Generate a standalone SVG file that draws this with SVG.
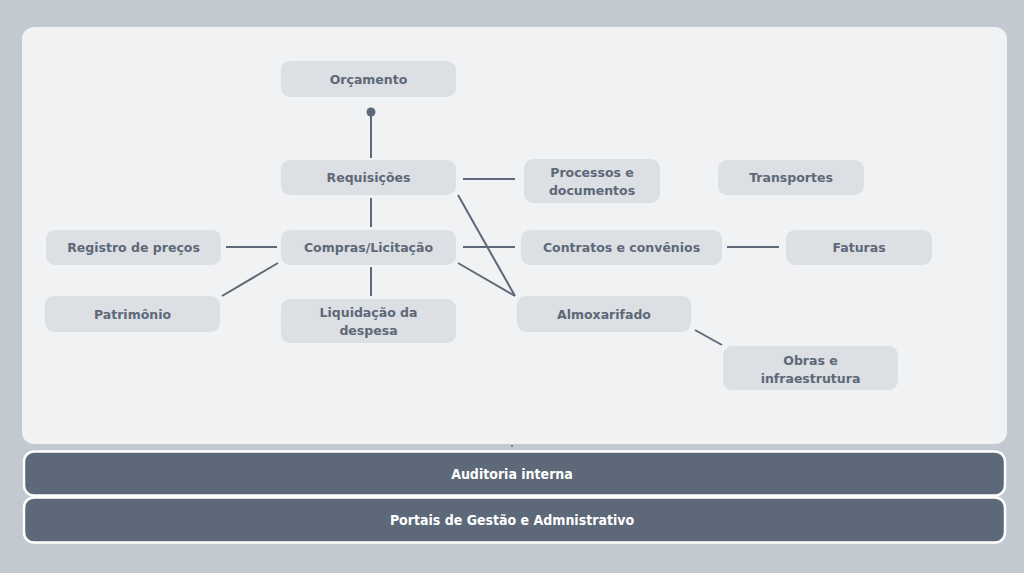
<svg xmlns="http://www.w3.org/2000/svg" width="1024" height="573" viewBox="0 0 1024 573">
<defs>
<style>
.node rect{fill:#dcdfe3}
.node text{font-family:"DejaVu Sans",Verdana,sans-serif;font-weight:bold;font-size:12.5px;fill:#5d6878;text-anchor:middle}
.bar rect{fill:#5d6878;stroke:#ffffff;stroke-width:2.5}
.bar text{font-family:"DejaVu Sans Condensed","DejaVu Sans",sans-serif;font-stretch:condensed;font-weight:bold;font-size:14px;fill:#ffffff;text-anchor:middle}
.conn line{stroke:#5d6878;stroke-width:2;stroke-linecap:butt}
</style>
</defs>
<rect x="0" y="0" width="1024" height="573" fill="#c3c9d0"/>
<rect id="panel" x="22" y="27" width="985" height="417" rx="12" fill="#f1f2f4"/>
<g id="connectors" class="conn">
<line x1="371" y1="112" x2="371" y2="158"/>
<circle cx="371" cy="112" r="4.5" fill="#5d6878"/>
<line x1="463" y1="179" x2="515" y2="179"/>
<line x1="371" y1="198" x2="371" y2="227"/>
<line x1="226" y1="247" x2="277" y2="247"/>
<line x1="463" y1="247" x2="515" y2="247"/>
<line x1="278" y1="263" x2="222" y2="296"/>
<line x1="371" y1="267" x2="371" y2="296"/>
<line x1="458" y1="195" x2="515" y2="296"/>
<line x1="458" y1="263" x2="515" y2="296"/>
<line x1="727" y1="247" x2="779" y2="247"/>
<line x1="695" y1="330" x2="722" y2="345"/>
<circle cx="512" cy="446" r="1" fill="#5d6878"/>
</g>
<g id="orcamento" class="node"><rect x="281" y="61" width="175" height="36" rx="9"/><text x="368.5" y="84">Orçamento</text></g>
<g id="requisicoes" class="node"><rect x="281" y="160" width="175" height="35" rx="9"/><text x="368.5" y="182">Requisições</text></g>
<g id="processos" class="node"><rect x="524" y="159" width="136" height="44" rx="9"/><text x="592" y="177">Processos e</text><text x="592" y="195">documentos</text></g>
<g id="transportes" class="node"><rect x="718" y="160" width="146" height="35" rx="9"/><text x="791" y="182">Transportes</text></g>
<g id="registro" class="node"><rect x="46" y="230" width="175" height="35" rx="9"/><text x="133.5" y="252">Registro de preços</text></g>
<g id="compras" class="node"><rect x="281" y="230" width="175" height="35" rx="9"/><text x="368.5" y="252">Compras/Licitação</text></g>
<g id="contratos" class="node"><rect x="521" y="230" width="201" height="35" rx="9"/><text x="621.5" y="252">Contratos e convênios</text></g>
<g id="faturas" class="node"><rect x="786" y="230" width="146" height="35" rx="9"/><text x="859" y="252">Faturas</text></g>
<g id="patrimonio" class="node"><rect x="45" y="296" width="175" height="36" rx="9"/><text x="132.5" y="319">Patrimônio</text></g>
<g id="liquidacao" class="node"><rect x="281" y="299" width="175" height="44" rx="9"/><text x="368.5" y="317">Liquidação da</text><text x="368.5" y="335">despesa</text></g>
<g id="almoxarifado" class="node"><rect x="517" y="296" width="174" height="36" rx="9"/><text x="604" y="319">Almoxarifado</text></g>
<g id="obras" class="node"><rect x="723" y="346" width="175" height="44" rx="9"/><text x="810.5" y="365">Obras e</text><text x="810.5" y="383">infraestrutura</text></g>
<g id="auditoria" class="bar"><rect x="24" y="451.5" width="981" height="44" rx="10"/><text x="512" y="479">Auditoria interna</text></g>
<g id="portais" class="bar"><rect x="24" y="497.5" width="981" height="45" rx="10"/><text x="512" y="525">Portais de Gestão e Admnistrativo</text></g>
</svg>
